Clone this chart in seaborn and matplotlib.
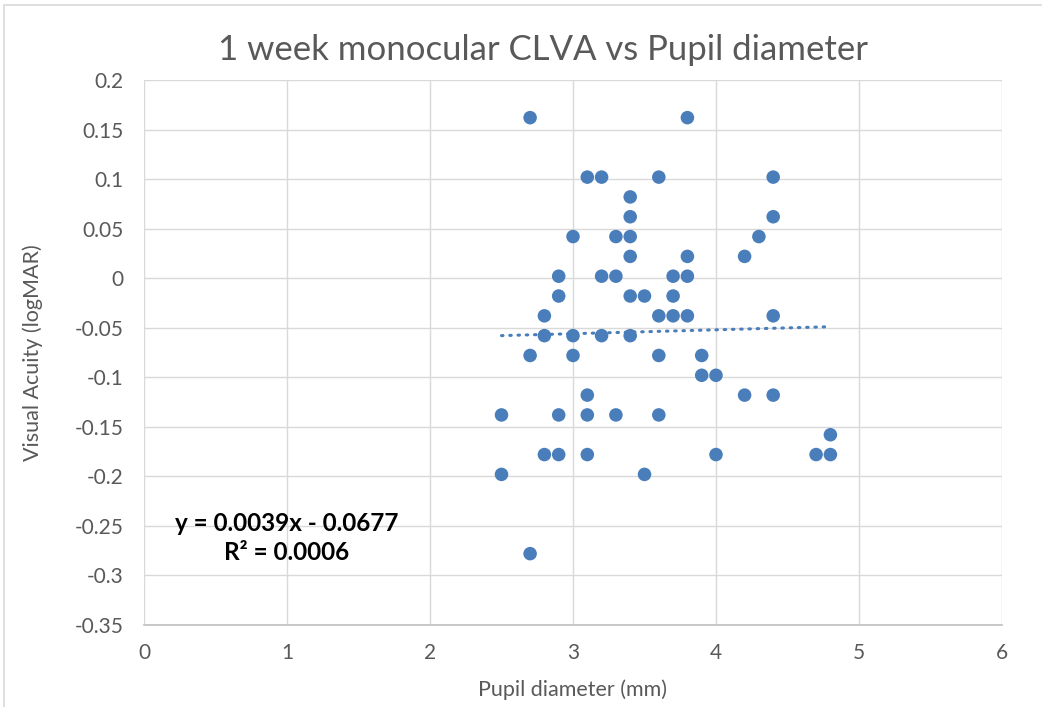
import matplotlib.pyplot as plt
import numpy as np
import pandas as pd
import seaborn as sns
from matplotlib.patches import FancyBboxPatch

# Pupil diameter (mm) and visual acuity (logMAR)
pupil_mm = [
    2.5, 2.5,
    2.7, 2.7, 2.7,
    2.8, 2.8, 2.8,
    2.9, 2.9, 2.9, 2.9,
    3.0, 3.0, 3.0,
    3.1, 3.1, 3.1, 3.1,
    3.2, 3.2, 3.2,
    3.3, 3.3, 3.3,
    3.4, 3.4, 3.4, 3.4, 3.4, 3.4,
    3.5, 3.5,
    3.6, 3.6, 3.6, 3.6,
    3.7, 3.7, 3.7,
    3.8, 3.8, 3.8, 3.8,
    3.9, 3.9,
    4.0, 4.0,
    4.2, 4.2,
    4.3,
    4.4, 4.4, 4.4, 4.4,
    4.7,
    4.8, 4.8,
]
acuity = [
    -0.138, -0.198,
    0.162, -0.078, -0.278,
    -0.038, -0.058, -0.178,
    0.002, -0.018, -0.138, -0.178,
    0.042, -0.058, -0.078,
    0.102, -0.118, -0.138, -0.178,
    0.102, 0.002, -0.058,
    0.042, 0.002, -0.138,
    0.082, 0.062, 0.042, 0.022, -0.018, -0.058,
    -0.018, -0.198,
    0.102, -0.038, -0.078, -0.138,
    0.002, -0.018, -0.038,
    0.162, 0.022, 0.002, -0.038,
    -0.078, -0.098,
    -0.098, -0.178,
    0.022, -0.118,
    0.042,
    0.102, 0.062, -0.038, -0.118,
    -0.178,
    -0.158, -0.178,
]

# Linear trendline as reported on the chart
slope = 0.0039
intercept = -0.0677
r_squared = 0.0006

x_ticks = [0, 1, 2, 3, 4, 5, 6]
y_ticks = [0.2, 0.15, 0.1, 0.05, 0, -0.05, -0.1, -0.15, -0.2, -0.25, -0.3, -0.35]

BLUE = "#4a7ebb"
GREY_TEXT = "#595959"

sns.set_style("white")
plt.rcParams["font.family"] = ["Lato", "DejaVu Sans"]

df = pd.DataFrame({"pupil": pupil_mm, "va": acuity})

fig = plt.figure(figsize=(10.42, 7.07), dpi=100)
ax = fig.add_axes([144 / 1042, 1 - 625 / 707, (1002 - 144) / 1042, (625 - 80) / 707])

# Chart-area border
fig.patches.append(
    FancyBboxPatch(
        (4 / 1042, -0.02), 1.05, 1.0 - 5 / 707 + 0.02,
        boxstyle="square,pad=0", transform=fig.transFigure,
        facecolor="none", edgecolor="#d9d9d9", linewidth=1.2,
    )
)

sns.scatterplot(
    data=df, x="pupil", y="va", ax=ax,
    color=BLUE, s=95, edgecolor="none", zorder=3,
)

# Dotted trendline over the data range
trend_x = np.array([min(pupil_mm), max(pupil_mm)])
trend_df = pd.DataFrame({"x": trend_x, "y": slope * trend_x + intercept})
sns.lineplot(
    data=trend_df, x="x", y="y", ax=ax, color=BLUE,
    linewidth=2.2, linestyle=(0, (0.5, 2.2)), dash_capstyle="round", zorder=2,
)

ax.set_xlim(0, 6)
ax.set_ylim(-0.35, 0.2)
ax.set_xticks(x_ticks)
ax.set_yticks(y_ticks)
ax.set_yticklabels([f"{v:g}" for v in y_ticks])
ax.grid(True, color="#d9d9d9", linewidth=1)
for side in ["top", "right", "left"]:
    ax.spines[side].set_visible(False)
ax.spines["bottom"].set_color("#bfbfbf")
ax.spines["bottom"].set_linewidth(1.2)
ax.tick_params(axis="both", length=0, labelsize=15, labelcolor=GREY_TEXT)
ax.tick_params(axis="x", pad=13)
ax.tick_params(axis="y", pad=15)

ax.set_xlabel("Pupil diameter (mm)", fontsize=15.5, color=GREY_TEXT, va="center")
ax.set_ylabel("Visual Acuity (logMAR)", fontsize=15.5, color=GREY_TEXT, va="center")
ax.xaxis.set_label_coords(0.5, -(690 - 625) / 545)
ax.yaxis.set_label_coords(-(144 - 33) / 858, 0.5)
fig.text(543 / 1042, 1 - 50 / 707, "1 week monocular CLVA vs Pupil diameter",
         ha="center", va="center", fontsize=25, color=GREY_TEXT)

ax.text(1.0, -0.262, f"y = {slope}x - {abs(intercept)}\nR² = {r_squared}",
        ha="center", va="center", fontsize=17.5, fontweight="bold",
        color="black", linespacing=1.3)

fig.savefig("out.png", dpi=100)
